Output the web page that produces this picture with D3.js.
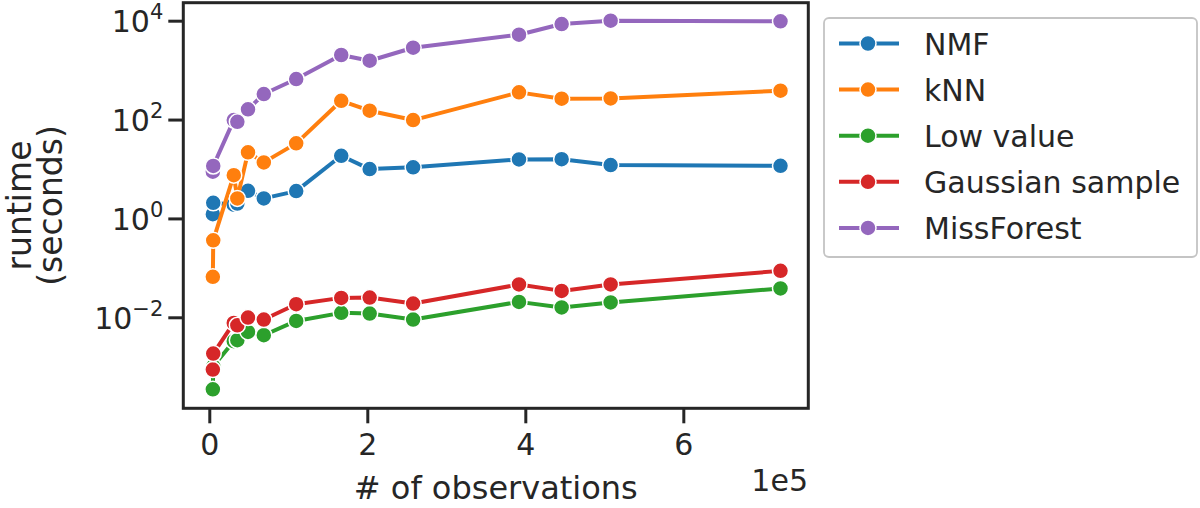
<!DOCTYPE html>
<html>
<head>
<meta charset="utf-8">
<script src="https://cdn.jsdelivr.net/npm/d3@7/dist/d3.min.js"></script>
<style>
  html, body { margin: 0; padding: 0; background: #ffffff; }
  svg { display: block; }
  text { font-family: "DejaVu Sans", sans-serif; fill: #262626; }
</style>
</head>
<body>
<svg id="chart" width="1200" height="508"></svg>
<script>
// ---- data ----
const observations = [4500, 5000, 31000, 35500, 49000, 69000, 110000, 167000, 203000, 258000, 392000, 446000, 508000, 723000];
const seriesNames = ["NMF", "kNN", "Low value", "Gaussian sample", "MissForest"];
const nmf        = [1.22, 2.07, 1.9, 2.0, 3.62, 2.54, 3.57, 18.5, 9.95, 10.8, 15.6, 15.8, 12.0, 11.6];
const knn        = [0.066, 0.36, 7.5, 2.54, 21.7, 13.6, 33, 240, 151, 97.7, 355, 264, 268, 383];
const lowValue   = [0.00035, 0.00102, 0.00328, 0.00344, 0.00506, 0.00434, 0.00845, 0.0123, 0.0119, 0.0090, 0.0205, 0.0158, 0.020, 0.0383];
const gaussian   = [0.000877, 0.00185, 0.0077, 0.0069, 0.0099, 0.0090, 0.0184, 0.0247, 0.0251, 0.019, 0.0461, 0.0342, 0.0461, 0.0869];
const missForest = [8.8, 11.5, 97.7, 90, 161, 328, 661, 2023, 1549, 2840, 5210, 8570, 10000, 9730];
const seriesColors = ["#1f77b4", "#ff7f0e", "#2ca02c", "#d62728", "#9467bd"];
const xTickValues = [0, 200000, 400000, 600000];
const yTickValues = [1e-2, 1e0, 1e2, 1e4];
const xLabel = "# of observations";
const yLabelLines = ["runtime", "(seconds)"];
const xOffsetText = "1e5";

const seriesValues = [nmf, knn, lowValue, gaussian, missForest];

// ---- layout ----
const svg = d3.select("#chart");
const plot = { left: 183.3, right: 808.3, top: 2.7, bottom: 408.3 };
const ink = "#262626";

const x = d3.scaleLinear()
  .domain([-32900, 758200])
  .range([plot.left, plot.right]);
const y = d3.scaleLog()
  .domain([Math.pow(10, -3.841), Math.pow(10, 4.364)])
  .range([plot.bottom, plot.top]);

// axes
const xAxis = d3.axisBottom(x).tickValues(xTickValues)
  .tickFormat(d => String(d / 1e5)).tickSize(15);
const gx = svg.append("g").attr("transform", `translate(0,${plot.bottom})`).call(xAxis);
gx.select(".domain").remove();
gx.selectAll(".tick line").attr("stroke", ink).attr("stroke-width", 3);
gx.selectAll(".tick text").attr("y", 47).attr("dy", null)
  .attr("font-size", 30).attr("font-family", "DejaVu Sans").attr("fill", ink);

const yAxis = d3.axisLeft(y).tickValues(yTickValues).tickSize(15);
const gy = svg.append("g").attr("transform", `translate(${plot.left},0)`).call(yAxis);
gy.select(".domain").remove();
gy.selectAll(".tick line").attr("stroke", ink).attr("stroke-width", 3);
gy.selectAll(".tick text").each(function(d) {
  const t = d3.select(this);
  const e = Math.round(Math.log10(d));
  t.text(null).attr("x", -20).attr("dy", 11).attr("text-anchor", "end")
    .attr("font-size", 30).attr("font-family", "DejaVu Sans").attr("fill", ink);
  t.append("tspan").text("10");
  t.append("tspan").attr("font-size", 21).attr("dy", -13)
    .text(e < 0 ? "\u2212" + Math.abs(e) : String(e));
});

// frame
svg.append("rect")
  .attr("x", plot.left).attr("y", plot.top)
  .attr("width", plot.right - plot.left).attr("height", plot.bottom - plot.top)
  .attr("fill", "none").attr("stroke", ink).attr("stroke-width", 3);

// series
const line = d3.line().x(d => x(d[0])).y(d => y(d[1]));
seriesValues.forEach((vals, i) => {
  const pts = observations.map((o, j) => [o, vals[j]]);
  const g = svg.append("g");
  g.append("path").datum(pts)
    .attr("d", line).attr("fill", "none")
    .attr("stroke", seriesColors[i]).attr("stroke-width", 4)
    .attr("stroke-linejoin", "round");
  g.selectAll("circle").data(pts).join("circle")
    .attr("cx", d => x(d[0])).attr("cy", d => y(d[1])).attr("r", 8)
    .attr("fill", seriesColors[i]).attr("stroke", "#ffffff").attr("stroke-width", 1.5);
});

// labels
svg.append("text").attr("x", (plot.left + plot.right) / 2).attr("y", 499)
  .attr("text-anchor", "middle").attr("font-size", 32).text(xLabel);
svg.append("text").attr("x", 808).attr("y", 491)
  .attr("text-anchor", "end").attr("font-size", 30).text(xOffsetText);
const yMid = (plot.top + plot.bottom) / 2;
[31, 61.5].forEach((bx, k) => {
  svg.append("text").attr("transform", `translate(${bx},${yMid}) rotate(-90)`)
    .attr("text-anchor", "middle").attr("font-size", 33).text(yLabelLines[k]);
});

// legend
const leg = svg.append("g");
leg.append("rect").attr("x", 824).attr("y", 18).attr("width", 373).attr("height", 239)
  .attr("rx", 5).attr("fill", "#ffffff").attr("stroke", "#c4c4c4").attr("stroke-width", 1.8);
seriesNames.forEach((name, i) => {
  const cy = 43.5 + i * 46.1;
  leg.append("line").attr("x1", 839).attr("x2", 899).attr("y1", cy).attr("y2", cy)
    .attr("stroke", seriesColors[i]).attr("stroke-width", 4);
  leg.append("circle").attr("cx", 868).attr("cy", cy).attr("r", 8)
    .attr("fill", seriesColors[i]).attr("stroke", "#ffffff").attr("stroke-width", 1.5);
  leg.append("text").attr("x", 924).attr("y", cy + 11).attr("font-size", 30).text(name);
});
</script>
</body>
</html>
